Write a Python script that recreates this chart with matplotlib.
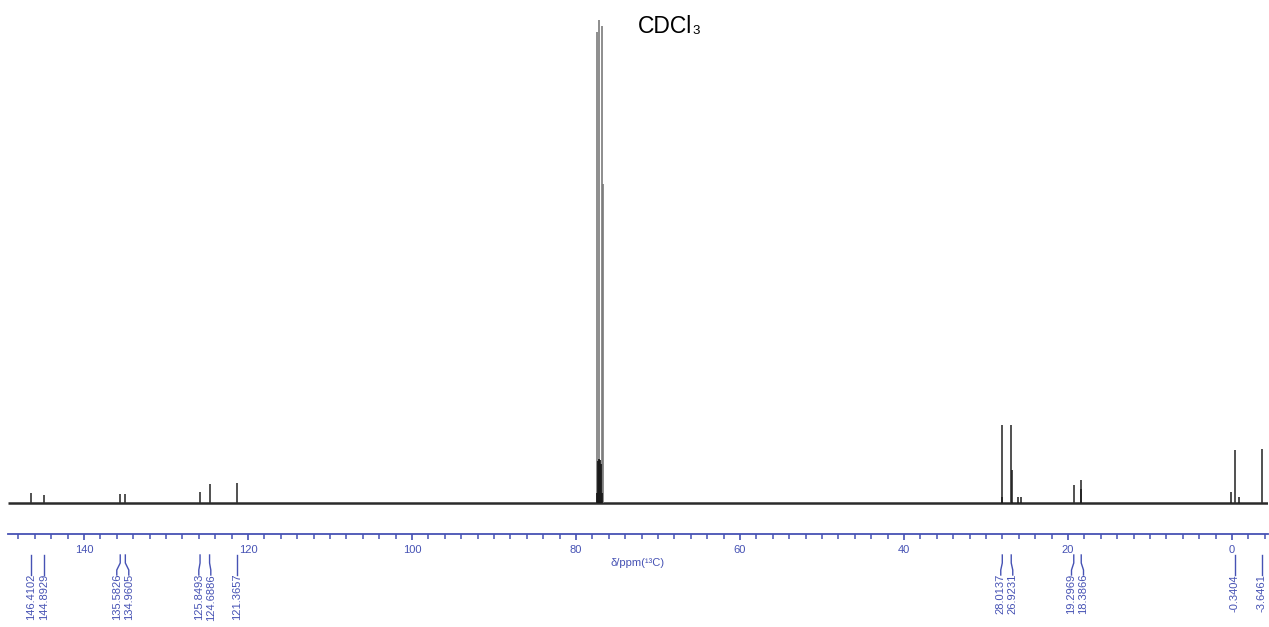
import matplotlib
matplotlib.use("Agg")
import matplotlib.pyplot as plt
import matplotlib.transforms as mtransforms
from matplotlib.ticker import MultipleLocator
from matplotlib import font_manager

# ---------------- data ----------------
peak_ppm = [146.4102, 144.8929, 135.5826, 134.9605, 125.8493, 124.6886, 121.3657,
            28.0137, 26.9231, 19.2969, 18.3866, -0.3404, -3.6461]
peak_height = [1.9, 1.45, 1.8, 1.8, 2.2, 3.9, 4.1,
               16.1, 16.1, 3.7, 4.6, 10.8, 11.1]
peak_labels = ["146.4102", "144.8929", "135.5826", "134.9605", "125.8493", "124.6886",
               "121.3657", "28.0137", "26.9231", "19.2969", "18.3866", "-0.3404", "-3.6461"]

solvent_ppm = [77.40, 77.20, 76.87, 76.71]
solvent_height = [97.5, 99.9, 98.7, 65.9]
solvent_base_ppm = [77.45, 77.33, 77.20, 77.08, 76.95, 76.85]
solvent_base_height = [2.0, 8.5, 9.0, 8.8, 8.0, 2.0]

minor_peak_ppm = [26.06, 25.77, 0.16, -0.89, 26.88, 18.40, 28.05]
minor_peak_height = [1.2, 1.2, 2.1, 1.1, 6.8, 2.7, 1.2]

x_ticks = [140, 120, 100, 80, 60, 40, 20, 0]
x_limits = (149.27, -4.39)
solvent_name = "CDCl"
solvent_sub = "3"
x_label = "δ/ppm(¹³C)"

# ---------------- styling ----------------
W, H = 1269, 627
BLUE = "#4652b4"
names = {f.name for f in font_manager.fontManager.ttflist}
if "Liberation Sans Narrow" in names:
    NARROW = ["Liberation Sans Narrow", "DejaVu Sans"]
    small = 9.3
else:
    NARROW = ["Liberation Sans", "DejaVu Sans"]
    small = 8.0

fig = plt.figure(figsize=(W / 100, H / 100), dpi=100)
fig.patch.set_facecolor("white")


def fy(py):
    return 1 - py / H


ax_bottom_px, ax_top_px = 534, 10
ax = fig.add_axes([8 / W, fy(ax_bottom_px), 1260 / W, (ax_bottom_px - ax_top_px) / H])
ax.set_xlim(*x_limits)
baseline_px = 502.5
px_per_unit = 4.83
ax.set_ylim(-(ax_bottom_px - baseline_px) / px_per_unit,
            (baseline_px - ax_top_px) / px_per_unit)
ax.patch.set_alpha(0)

# spectrum
ax.hlines(0, x_limits[0], x_limits[1], color="#2a2a2a", lw=1.8)
ax.vlines(solvent_ppm, 0, solvent_height, color="#7a7a7a", lw=1.2)
ax.vlines(solvent_base_ppm, 0, solvent_base_height, color="#1a1a1a", lw=1.3)
ax.vlines(peak_ppm, 0, peak_height, color="#333333", lw=1.2)
ax.vlines(minor_peak_ppm, 0, minor_peak_height, color="#1a1a1a", lw=1.1)

# axis
for s in ("left", "right", "top"):
    ax.spines[s].set_visible(False)
ax.spines["bottom"].set_color(BLUE)
ax.spines["bottom"].set_linewidth(1.3)
ax.set_yticks([])
ax.set_xticks(x_ticks)
ax.set_xticklabels([str(t) for t in x_ticks])
ax.xaxis.set_minor_locator(MultipleLocator(2))
ax.tick_params(axis="x", which="major", direction="out", length=4.6, width=1.2,
               color=BLUE, labelcolor=BLUE, labelsize=small, pad=3.0)
ax.tick_params(axis="x", which="minor", direction="out", length=3.6, width=1.1, color=BLUE)
for lab in ax.get_xticklabels():
    lab.set_family(NARROW)
ax.set_xlabel(x_label, color=BLUE, fontsize=small, family=NARROW, labelpad=2.5)

# peak labels: spread positions so texts do not overlap
ppm_per_px = (x_limits[0] - x_limits[1]) / 1260
sep = 12 * ppm_per_px
pos = list(peak_ppm)
for _ in range(500):
    for i in range(len(pos) - 1):
        gap = pos[i] - pos[i + 1]
        if gap < sep:
            d = (sep - gap) / 2
            pos[i] += d
            pos[i + 1] -= d

trans = mtransforms.blended_transform_factory(ax.transData, fig.transFigure)
for p, q, lab in zip(peak_ppm, pos, peak_labels):
    ax.plot([p, p, q, q], [fy(555), fy(563), fy(570), fy(575)], color=BLUE, lw=1.0,
            transform=trans, clip_on=False)
    ax.text(q, fy(574), lab, rotation=90, ha="center", va="top", color=BLUE,
            fontsize=small, family=NARROW, transform=trans, clip_on=False)

# solvent annotation
fig.text(638 / W, fy(33), solvent_name, fontsize=16.5, family=["Liberation Sans", "DejaVu Sans"],
         color="black", va="baseline", ha="left")
fig.text(692 / W, fy(34), solvent_sub, fontsize=9.5, family=["Liberation Sans", "DejaVu Sans"],
         color="black", va="baseline", ha="left")

fig.savefig("out.png", dpi=100, facecolor="white")
